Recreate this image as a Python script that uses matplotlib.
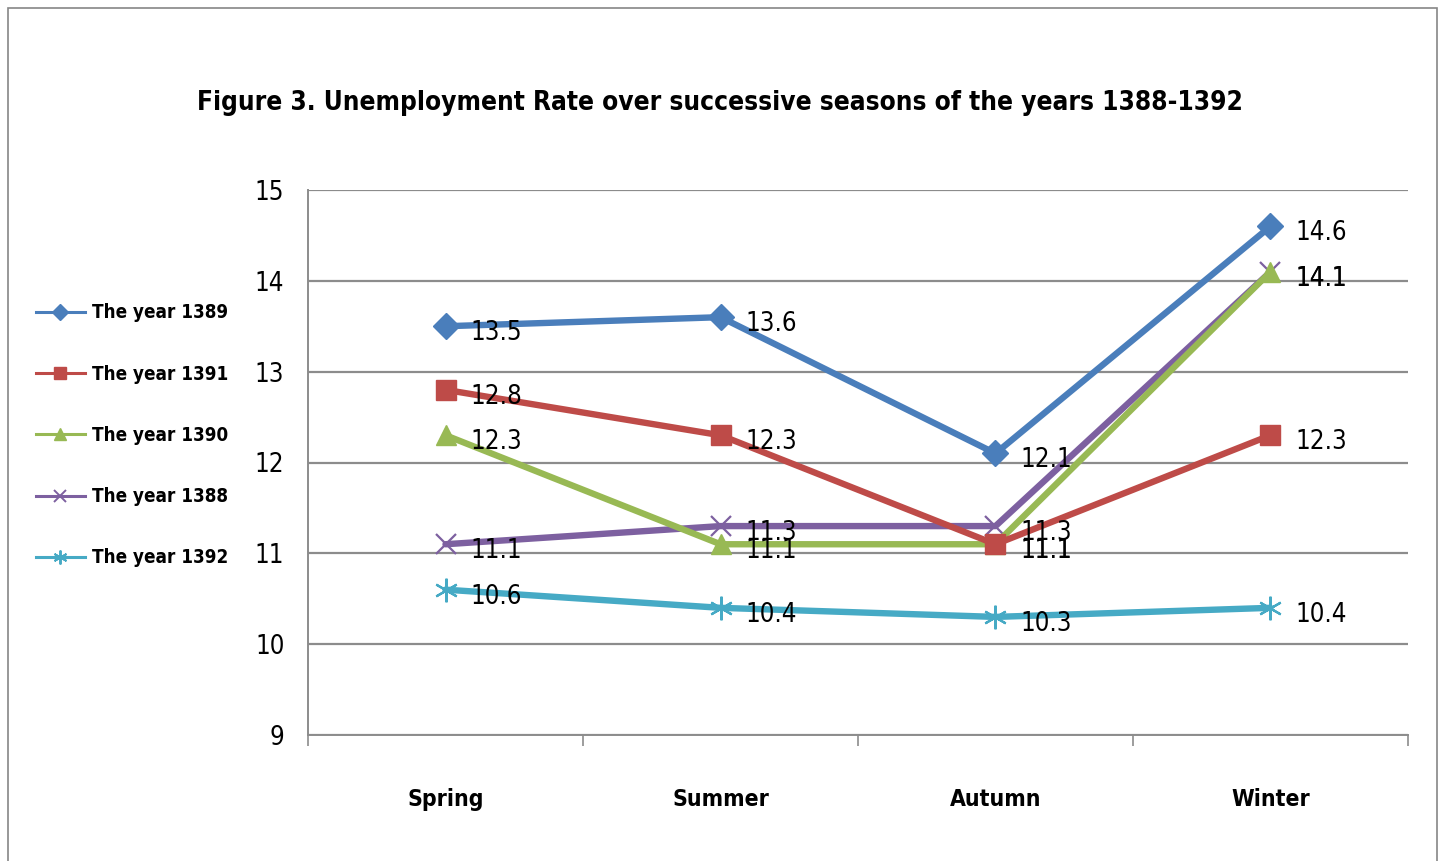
import matplotlib
matplotlib.use("Agg")
import matplotlib.pyplot as plt
from matplotlib.lines import Line2D
from matplotlib.patches import Rectangle

plt.rcParams["font.family"] = ["DejaVu Sans"]
plt.rcParams["font.stretch"] = "condensed"

seasons = ["Spring", "Summer", "Autumn", "Winter"]
series_names = ["The year 1389", "The year 1391", "The year 1390", "The year 1388", "The year 1392"]
y1389 = [13.5, 13.6, 12.1, 14.6]
y1391 = [12.8, 12.3, 11.1, 12.3]
y1390 = [12.3, 11.1, 11.1, 14.1]
y1388 = [11.1, 11.3, 11.3, 14.1]
y1392 = [10.6, 10.4, 10.3, 10.4]
yticks = [9, 10, 11, 12, 13, 14, 15]

colors = ["#4a7ebb", "#be4b48", "#98b954", "#7d60a0", "#46aac5"]
markers = ["D", "s", "^", "x", (6, 2, 0)]
msizes = [13, 14, 15, 14, 17]
values = [y1389, y1391, y1390, y1388, y1392]

fig = plt.figure(figsize=(14.43, 8.61), dpi=100)
fig.patches.append(Rectangle((8 / 1443, -0.05), 1429 / 1443, 1 + 0.05 - 8 / 861,
                             transform=fig.transFigure, fill=False,
                             edgecolor="#868686", linewidth=1.2))
ax = fig.add_axes([308 / 1443, 1 - 735 / 861, 1100 / 1443, 545 / 861])

x = list(range(len(seasons)))
# draw in reverse so the first series ends up on top
order = [4, 3, 2, 1, 0]
for i in order:
    ax.plot(x, values[i], color=colors[i], linewidth=4.6, marker=markers[i],
            markersize=msizes[i], markeredgewidth=1.6 if i >= 3 else 1.0,
            markeredgecolor=colors[i], zorder=3 + (5 - i), solid_capstyle="round")
    for xi, v in zip(x, values[i]):
        ax.annotate(f"{v}", (xi, v), xytext=(18, -5), textcoords="offset points",
                    fontsize=18.5, va="center", ha="left", color="black", zorder=20)

ax.set_xlim(-0.5, 3.5)
ax.set_ylim(9, 15)
ax.set_yticks(yticks)
ax.set_yticklabels([str(t) for t in yticks], fontsize=18.5)
ax.yaxis.grid(True, color="#8c8c8c", linewidth=1.6)
ax.set_axisbelow(True)
ax.tick_params(axis="y", length=0, pad=17)
ax.set_xticks([-0.5, 0.5, 1.5, 2.5, 3.5])
ax.set_xticklabels([])
ax.set_xticks(x, minor=True)
ax.set_xticklabels(seasons, minor=True, fontsize=16.5, fontweight="bold")
ax.tick_params(axis="x", which="minor", length=0, pad=38)
ax.tick_params(axis="x", which="major", length=8, width=1.2, color="#8c8c8c", direction="out")
for s in ["top", "right"]:
    ax.spines[s].set_visible(False)
ax.spines["left"].set_color("#8c8c8c")
ax.spines["bottom"].set_color("#8c8c8c")
ax.spines["left"].set_linewidth(1.4)
ax.spines["bottom"].set_linewidth(1.4)

fig.text(720 / 1443, 1 - 103 / 861, "Figure 3. Unemployment Rate over successive seasons of the years 1388-1392",
         ha="center", va="center", fontsize=18.8, fontweight="bold")

handles = [Line2D([0], [0], color=colors[i], linewidth=2.2, marker=markers[i],
                  markersize=[8, 9, 9, 9, 10][i], markeredgewidth=1.4 if i >= 3 else 1.0)
           for i in range(5)]
fig.legend(handles, series_names, loc="upper left", bbox_to_anchor=(28 / 1443, 1 - 296 / 861),
           borderaxespad=0, frameon=False,
           prop={"weight": "bold", "size": 13.5, "stretch": "condensed"},
           handlelength=2.65, handletextpad=0.38, labelspacing=2.25)

fig.savefig("out.png", dpi=100)
